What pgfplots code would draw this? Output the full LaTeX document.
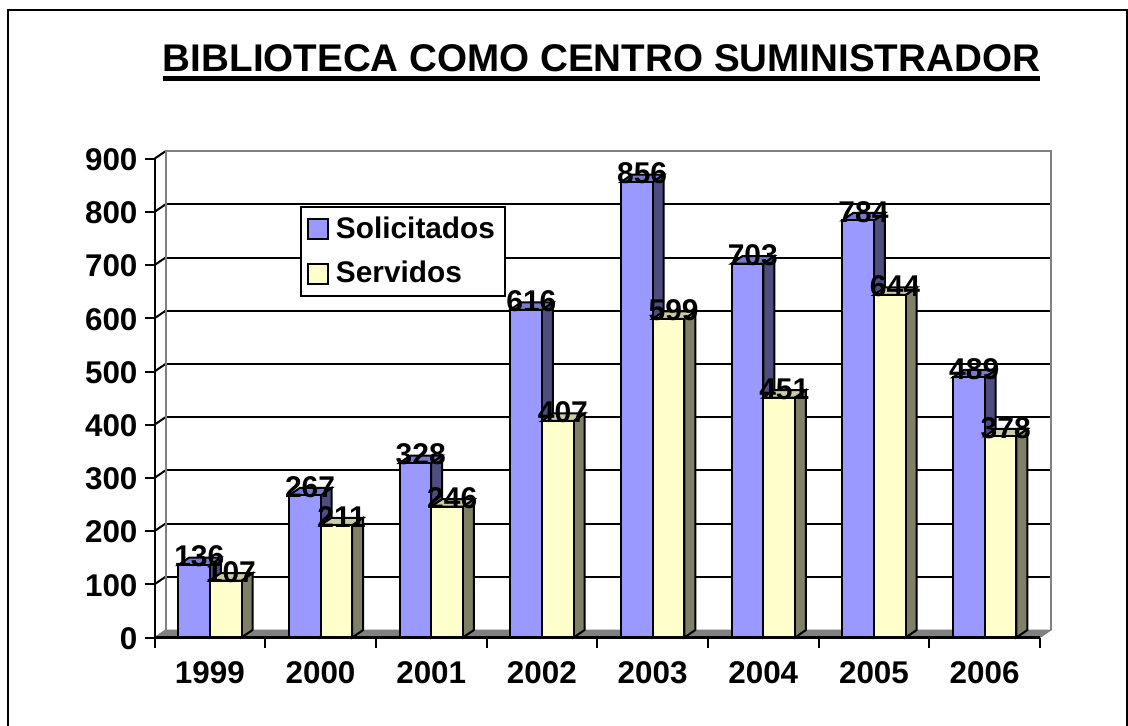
\documentclass[border=0pt]{standalone}
\usepackage{fontspec}
\setmainfont{Liberation Sans}
\usepackage{pgfplots}
\usepackage{pgfplotstable}
\pgfplotsset{compat=1.18}
\definecolor{solfront}{HTML}{9999FF}
\definecolor{solside}{HTML}{4D4D80}
\definecolor{soltop}{HTML}{7A7ACC}
\definecolor{serfront}{HTML}{FFFFCC}
\definecolor{serside}{HTML}{808066}
\definecolor{sertop}{HTML}{CCCCA3}
\definecolor{wall}{HTML}{808080}

\pgfplotstableread{
x sol ser
0 136 107
1 267 211
2 328 246
3 616 407
4 856 599
5 703 451
6 784 644
7 489 378
}\bardata

% depth of the fake 3D, in data units
\newcommand{\depx}{0.0994}
\newcommand{\depy}{14.1}
\newcommand{\barw}{0.2864}

% side and top face of one bar: left x, value, side colour, top colour
\newcommand{\faces}[4]{%
  \pgfmathsetmacro{\xa}{#1}%
  \pgfmathsetmacro{\xb}{#1+\barw}%
  \pgfmathsetmacro{\xc}{#1+\barw+\depx}%
  \pgfmathsetmacro{\xd}{#1+\depx}%
  \pgfmathsetmacro{\vb}{#2+\depy}%
  \addplot[forget plot,fill=#3,draw=black,line width=1pt]
    coordinates {(\xb,0) (\xc,\depy) (\xc,\vb) (\xb,#2)} -- cycle;
  \addplot[forget plot,fill=#4,draw=black,line width=1pt]
    coordinates {(\xa,#2) (\xb,#2) (\xc,\vb) (\xd,\vb)} -- cycle;
}

\begin{document}
\begin{tikzpicture}[x=0.5pt,y=-0.5pt]
\useasboundingbox (0,0) rectangle (1128,726);
% outer frame, bottom edge is cut off in the original
\draw[line width=1.25pt] (8,726) -- (8,10) -- (1127,10) -- (1127,726);
\node[anchor=base,inner sep=0pt,font=\fontsize{19.3}{22}\bfseries\selectfont] at (601.5,72)
  {BIBLIOTECA COMO CENTRO SUMINISTRADOR};
\draw[line width=2.5pt] (163,78.5) -- (1040,78.5);

\begin{axis}[
  at={(77.25pt,-318.75pt)}, anchor=south west,
  scale only axis, width=442.75pt, height=239.4pt,
  clip=false, axis on top,
  xmin=-0.5, xmax=7.5, ymin=0, ymax=900,
  axis x line=bottom, axis y line=left,
  x axis line style={-,line width=1.5pt},
  y axis line style={-,line width=1pt},
  xtick={0,...,7},
  xticklabels={1999,2000,2001,2002,2003,2004,2005,2006},
  minor xtick={-0.5,0.5,...,7.5},
  ytick={0,100,...,900},
  tick align=outside,
  major tick length=5pt, minor tick length=5pt,
  x tick style={draw=none},
  minor x tick style={draw=black,line width=1pt},
  y tick style={draw=black,line width=1pt},
  /pgf/number format/assume math mode=true,
  tick label style={font=\fontsize{15.7}{18}\bfseries\selectfont},
  yticklabel style={yshift=-0.5pt},
  xticklabel style={yshift=-3.5pt},
  legend style={at={(0.1643,0.9018)},anchor=north west,draw=black,line width=1pt,
    fill=white,font=\fontsize{14.9}{18}\bfseries\selectfont,
    inner xsep=3pt,inner ysep=3pt,row sep=6pt},
  legend cell align=left,
]
% floor and walls
\addplot[forget plot,fill=wall,draw=wall,line width=0.5pt]
  coordinates {(-0.5,0) (-0.4006,14.1) (7.5994,14.1) (7.5,0)} -- cycle;
\pgfplotsinvokeforeach{100,200,...,800}{
  \draw[black,line width=1pt] (axis cs:-0.4006,#1+14.1) -- (axis cs:7.5994,#1+14.1);
}
\pgfplotsinvokeforeach{100,200,...,900}{
  \draw[black,line width=1pt] (axis cs:-0.5,#1) -- (axis cs:-0.4006,#1+14.1);
}
\draw[wall,line width=1pt] (axis cs:-0.4006,14.1) -- (axis cs:-0.4006,914.1)
  -- (axis cs:7.5994,914.1) -- (axis cs:7.5994,14.1);

% Solicitados
\pgfplotsforeachungrouped \i in {0,...,7}{
  \pgfplotstablegetelem{\i}{sol}\of\bardata
  \let\barval\pgfplotsretval
  \faces{\i-\barw}{\barval}{solside}{soltop}
}
\addplot[ybar,bar width=15.85pt,bar shift=-7.93pt,fill=solfront,draw=black,line width=1pt,
  legend image code/.code={\draw[fill=solfront,draw=black,line width=1pt] (0pt,-5pt) rectangle (10pt,5pt);
    \path[draw=none] (0pt,0pt) -- (12pt,0pt);}]
  table[x=x,y=sol] {\bardata};
\addlegendentry{Solicitados}

% Servidos
\pgfplotsforeachungrouped \i in {0,...,7}{
  \pgfplotstablegetelem{\i}{ser}\of\bardata
  \let\barval\pgfplotsretval
  \faces{\i}{\barval}{serside}{sertop}
}
\addplot[ybar,bar width=15.85pt,bar shift=7.93pt,fill=serfront,draw=black,line width=1pt,
  legend image code/.code={\draw[fill=serfront,draw=black,line width=1pt] (0pt,-5pt) rectangle (10pt,5pt);
    \path[draw=none] (0pt,0pt) -- (12pt,0pt);}]
  table[x=x,y=ser] {\bardata};
\addlegendentry{Servidos}

% data labels last, so no bar covers them
\addplot[forget plot,ybar,bar width=15.85pt,bar shift=-7.93pt,draw=none,fill=none,
  nodes near coords,
  nodes near coords style={anchor=center,xshift=-5.25pt,yshift=4.25pt,text=black,
    font=\fontsize{15}{18}\bfseries\selectfont}]
  table[x=x,y=sol] {\bardata};
\addplot[forget plot,ybar,bar width=15.85pt,bar shift=7.93pt,draw=none,fill=none,
  nodes near coords,
  nodes near coords style={anchor=center,xshift=10.5pt,yshift=4.25pt,text=black,
    font=\fontsize{15}{18}\bfseries\selectfont}]
  table[x=x,y=ser] {\bardata};
\end{axis}
\end{tikzpicture}
\end{document}
